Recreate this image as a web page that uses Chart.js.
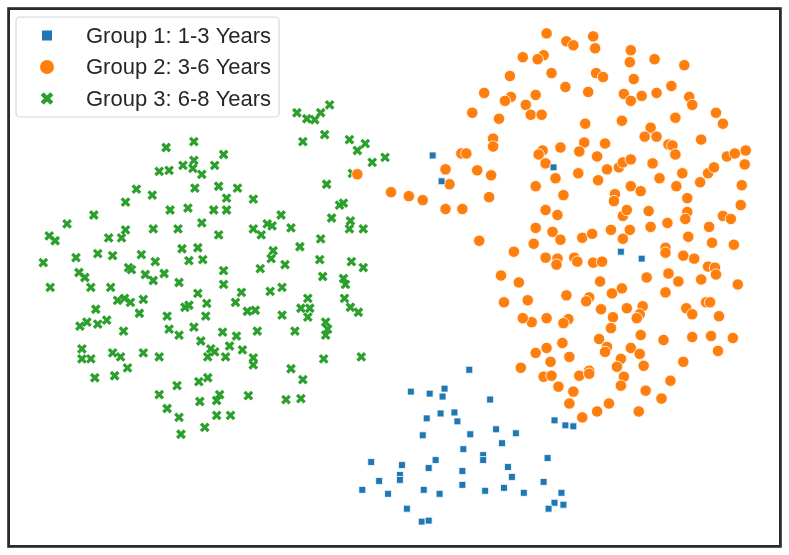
<!DOCTYPE html>
<html>
<head>
<meta charset="utf-8">
<script src="https://cdn.jsdelivr.net/npm/chart.js@4.4.1/dist/chart.umd.min.js"></script>
<style>
  html, body { margin: 0; padding: 0; background: #fff; }
  #wrap { width: 789px; height: 555px; position: relative; }
</style>
</head>
<body>
<div id="wrap"><canvas id="chart"></canvas></div>
<script>
// legend labels, one per group
const groupLabels = ['Group 1: 1-3 Years', 'Group 2: 3-6 Years', 'Group 3: 6-8 Years'];

// embedding coordinates (no axes, so these are in picture units)
const group1 = [
    [433,154],[442,180],[555,166],[623,251],[644,258],
    [470,370],[411,392],[430,394],[445,389],[443,397],[491,400],
    [427,419],[441,414],[455,413],[458,422],[423,436],[471,435],[497,430],[517,434],[503,444],[464,450],
    [371,463],[402,466],[436,461],[429,469],[484,456],[484,461],[463,472],[509,468],[513,478],
    [379,482],[400,476],[400,481],[362,491],[388,495],[424,491],[440,495],[463,486],[486,492],[505,489],[525,494],
    [407,510],[422,523],[429,522],
    [556,421],[567,426],[575,427],[549,459],[545,483],[563,494],[556,504],[565,506],[550,510]
];

const group2 = [
    [524,55],[511,74],[485,91],[512,95],[506,99],[527,103],[473,111],[500,117],[494,137],[494,145],
    [462,152],[467,152],[446,168],[478,169],[492,174],[450,183],[357,173],
    [548,31],[568,39],[575,43],[595,34],[597,46],[633,48],[632,60],[657,57],[687,63],[545,53],[539,57],
    [553,71],[598,71],[605,75],[636,77],[567,85],[590,90],[626,92],[633,99],[644,94],[659,91],[674,84],
    [692,95],[695,103],[537,93],[532,113],[543,113],[587,122],[624,119],[653,126],[647,135],[659,135],
    [678,116],[719,111],[726,122],[704,138],[671,143],[675,144],[678,153],[562,146],[544,149],[540,153],
    [547,162],[586,141],[581,150],[607,142],[599,155],[557,177],[580,172],[609,168],[600,179],[621,166],
    [625,161],[633,158],[655,162],[662,177],[685,172],[703,181],[711,172],[717,166],[730,155],[738,152],
    [749,149],[748,163],[745,184],
    [537,185],[565,194],[617,193],[616,200],[633,185],[643,190],[679,185],[690,197],[547,209],[559,214],
    [625,215],[629,209],[651,210],[690,211],[688,218],[744,204],[726,215],[734,218],[537,227],[554,231],
    [562,239],[584,237],[594,233],[613,229],[632,229],[625,238],[653,226],[670,222],[691,236],[712,226],
    [715,242],[737,244],[535,243],[668,247],[668,252],[686,255],[697,258],[547,257],[559,258],[558,264],
    [576,257],[579,261],[595,262],[604,261],[711,266],[718,267],[719,274],[704,279],[671,273],[681,281],
    [649,277],[602,281],[741,284],[668,292],[624,288],[614,293],[568,295],[591,297],[588,301],[529,300],
    [709,302],[713,302],[689,308],[695,314],[722,316],[603,309],[629,308],[645,306],[642,314],[639,318],
    [615,317],[548,318],[570,319],[565,323],[533,322],[524,318],[613,328],[643,335],[666,340],[695,337],
    [714,336],[736,338],[721,351],[601,339],[609,347],[607,352],[633,348],[642,354],[564,343],[548,348],
    [537,353],[571,357],[552,362],[623,359],[619,367],[646,366],[686,362],[591,371],
    [391,191],[409,195],[423,199],[446,208],[463,208],[490,196],[480,240],[515,251],[502,275],[520,282],
    [505,302],[522,368],
    [545,377],[553,376],[581,376],[591,374],[626,377],[623,386],[673,381],[560,387],[575,392],[648,391],
    [664,399],[571,404],[611,404],[599,412],[641,412],[584,418]
];

const group3 = [
    [164,146],[192,140],[222,153],[181,164],[192,159],[191,167],[213,164],[200,173],[157,170],[167,169],
    [296,111],[306,117],[314,118],[320,111],[329,103],[302,140],[324,133],[349,138],[357,149],[365,142],
    [372,161],[385,156],[326,183],[352,172],
    [134,188],[150,194],[193,187],[217,185],[236,187],[225,197],[252,198],[123,201],[168,209],[186,207],
    [212,209],[225,209],[91,214],[64,223],[200,222],[123,229],[119,237],[106,237],[151,228],[176,228],
    [217,234],[252,228],[260,234],[46,235],[52,240],[180,248],[196,247],[40,262],[73,257],[95,253],
    [110,255],[139,254],[153,261],[187,260],[201,259],[126,267],[129,269],[222,270],[259,268],[76,272],
    [82,277],[143,274],[151,280],[162,273],[47,287],[88,287],[108,287],[177,282],[222,284],[240,292],
    [196,293],[115,300],[122,298],[128,302],[141,299],[205,303],[183,307],[187,305],[234,302],[246,311],
    [254,310],[93,309],[137,313],[77,326],[84,322],[95,324],[104,320],[165,316],[204,316],[121,331],
    [167,329],[177,335],[192,327],[221,332],[235,336],[256,331],[199,341],[228,346],[79,349],[79,359],
    [88,359],[110,353],[118,357],[141,353],[157,357],[209,349],[213,352],[206,357],[224,357],[241,350],
    [252,358],[252,365],[125,368],
    [92,378],[112,376],[175,386],[197,382],[206,378],[157,395],[218,395],[215,401],[198,402],[247,396],
    [165,409],[177,418],[215,416],[229,416],[203,428],[179,435],
    [343,202],[339,204],[280,214],[331,217],[266,223],[271,225],[290,227],[350,220],[349,228],[363,228],
    [320,238],[299,246],[272,250],[270,258],[284,264],[319,259],[351,261],[363,267],[322,276],[343,278],
    [345,284],[269,291],[281,287],[307,298],[344,298],[300,308],[309,308],[307,317],[350,307],[358,312],
    [281,315],[325,322],[327,329],[325,335],[294,331],[323,359],[361,357],
    [290,369],[302,380],[285,400],[300,399]
];

const BLUE = '#1f77b4';
const ORANGE = '#ff7f0e';
const GREEN = '#2ca02c';

function toPoints(arr) {
    return arr.map(p => ({x: p[0], y: p[1]}));
}

// dark frame round the plot area
const framePlugin = {
    id: 'frame',
    afterDraw(chart) {
        const a = chart.chartArea;
        const ctx = chart.ctx;
        ctx.save();
        ctx.strokeStyle = '#2b2b2b';
        ctx.lineWidth = 2.8;
        ctx.strokeRect(a.left, a.top, a.right - a.left, a.bottom - a.top);
        ctx.restore();
    }
};

// legend box in the upper left corner, like the seaborn one
const boxLegend = {
    id: 'boxLegend',
    afterDraw(chart) {
        const ctx = chart.ctx;
        const x0 = 16, y0 = 17, w = 263, h = 100, r = 4;
        ctx.save();
        ctx.beginPath();
        ctx.roundRect(x0, y0, w, h, r);
        ctx.fillStyle = 'rgba(255,255,255,0.85)';
        ctx.fill();
        ctx.strokeStyle = '#d6d6d6';
        ctx.lineWidth = 1.2;
        ctx.stroke();

        const rowsY = [35.5, 67, 98.5];
        const mx = 47;
        ctx.font = '22px "Liberation Sans", Arial, sans-serif';
        ctx.textBaseline = 'middle';
        chart.data.datasets.forEach((ds, i) => {
            const y = rowsY[i];
            ctx.fillStyle = ds.backgroundColor;
            ctx.strokeStyle = ds.borderColor;
            if (i === 0) {
                ctx.fillRect(mx - 5, y - 5, 10, 10);
            } else if (i === 1) {
                ctx.beginPath();
                ctx.arc(mx, y, 7, 0, Math.PI * 2);
                ctx.fill();
            } else {
                ctx.lineWidth = 4.4;
                ctx.beginPath();
                ctx.moveTo(mx - 4.8, y - 4.8); ctx.lineTo(mx + 4.8, y + 4.8);
                ctx.moveTo(mx - 4.8, y + 4.8); ctx.lineTo(mx + 4.8, y - 4.8);
                ctx.stroke();
            }
            ctx.fillStyle = '#262626';
            ctx.fillText(ds.label, 86, y + 1);
        });
        ctx.restore();
    }
};

const ctx = document.getElementById('chart').getContext('2d');
new Chart(ctx, {
    type: 'scatter',
    data: {
        datasets: [
            {
                label: groupLabels[0],
                data: toPoints(group1),
                pointStyle: 'rect',
                pointRadius: 4.9,
                backgroundColor: BLUE,
                borderColor: '#ffffff',
                borderWidth: 0.8
            },
            {
                label: groupLabels[1],
                data: toPoints(group2),
                pointStyle: 'circle',
                pointRadius: 5.7,
                backgroundColor: ORANGE,
                borderColor: '#ffffff',
                borderWidth: 0.8
            },
            {
                label: groupLabels[2],
                data: toPoints(group3),
                pointStyle: 'crossRot',
                pointRadius: 5.3,
                backgroundColor: GREEN,
                borderColor: GREEN,
                borderWidth: 3.3
            }
        ]
    },
    options: {
        responsive: true,
        maintainAspectRatio: false,
        animation: false,
        layout: {
            padding: {left: 5, right: 5, top: 6, bottom: 7}
        },
        scales: {
            x: {type: 'linear', min: 5, max: 784, display: false},
            y: {type: 'linear', min: 6, max: 548, reverse: true, display: false}
        },
        plugins: {
            legend: {display: false},
            tooltip: {enabled: false}
        }
    },
    plugins: [framePlugin, boxLegend]
});
</script>
</body>
</html>
